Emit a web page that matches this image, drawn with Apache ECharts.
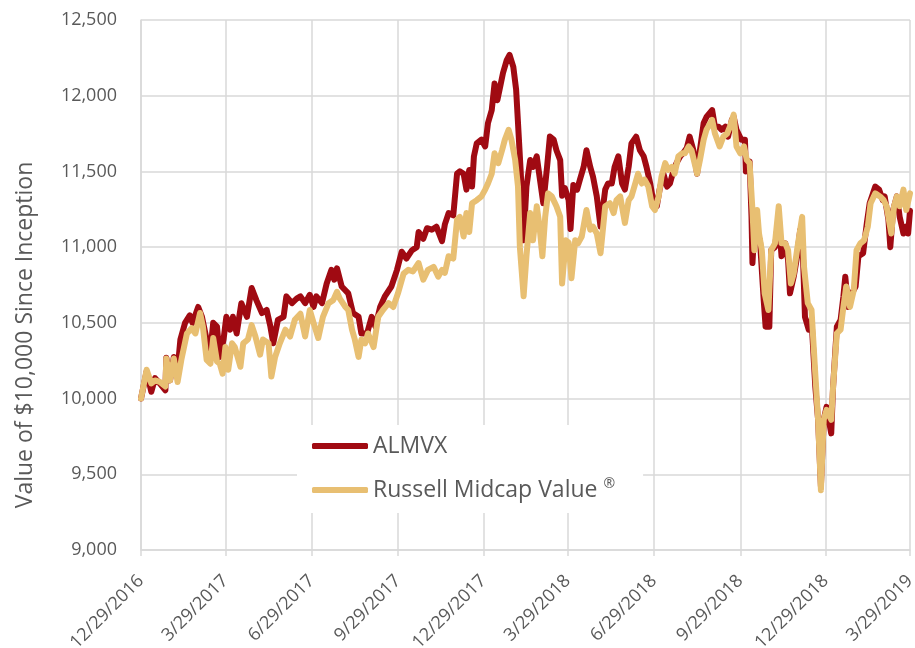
<!DOCTYPE html>
<html>
<head>
<meta charset="utf-8">
<title>ALMVX vs Russell Midcap Value</title>
<script src="https://cdn.jsdelivr.net/npm/echarts@6/dist/echarts.min.js"></script>
<style>
  html, body { margin: 0; padding: 0; background: #fff; }
  #chart { width: 915px; height: 648px; }
</style>
</head>
<body>
<div id="chart"></div>
<script>
'use strict';

/* Growth of $10,000, x = days since inception (12/29/2016) */
const almvxDays = [
  0, 6, 11, 15, 20, 26, 27, 31, 35, 39, 42, 47, 52, 55, 61, 65, 70, 74, 77, 81,
  84, 88, 91, 95, 98, 102, 107, 113, 118, 123, 129, 134, 138, 141, 146, 152, 155, 161, 166, 170,
  175, 180, 184, 187, 193, 198, 203, 206, 209, 214, 221, 226, 232, 235, 241, 246, 250, 255, 260, 267,
  273, 278, 283, 289, 294, 296, 301, 305, 310, 315, 321, 324, 328, 333, 337, 340, 344, 347, 350, 353,
  355, 358, 363, 367, 370, 374, 377, 380, 383, 386, 390, 393, 397, 400, 402, 405, 408, 411, 415, 418,
  422, 425, 429, 433, 436, 440, 443, 447, 449, 452, 456, 458, 461, 465, 468, 472, 475, 479, 482, 486,
  490, 495, 498, 502, 505, 509, 513, 516, 520, 523, 528, 532, 536, 539, 543, 546, 550, 553, 557, 561,
  564, 568, 571, 575, 578, 582, 585, 589, 593, 596, 600, 603, 609, 612, 616, 619, 623, 626, 630, 632,
  635, 640, 644, 645, 649, 651, 652, 655, 657, 660, 664, 666, 670, 672, 676, 680, 683, 687, 690, 692,
  696, 699, 703, 706, 708, 712, 715, 719, 722, 725, 728, 731, 736, 738, 742, 746, 749, 751, 754, 758,
  762, 765, 770, 774, 777, 783, 787, 791, 793, 797, 799, 802, 806, 809, 813, 816, 818, 820
];
const almvxValues = [
  10000, 10180, 10045, 10135, 10100, 10055, 10270, 10120, 10275, 10190, 10390, 10500, 10550, 10500, 10605, 10540, 10390, 10310, 10500, 10475,
  10275, 10390, 10540, 10455, 10540, 10430, 10630, 10540, 10730, 10650, 10565, 10585, 10475, 10365, 10520, 10540, 10675, 10630, 10660, 10675,
  10630, 10685, 10605, 10675, 10630, 10760, 10850, 10785, 10860, 10740, 10695, 10565, 10540, 10430, 10430, 10540, 10475, 10605, 10675, 10740,
  10850, 10970, 10925, 10980, 11000, 11100, 11055, 11125, 11115, 11135, 11040, 11150, 11225, 11210, 11485, 11500, 11485, 11380, 11510, 11400,
  11600, 11685, 11710, 11665, 11820, 11905, 12080, 11970, 12060, 12150, 12235, 12270, 12190, 12040, 11820, 11485, 11045, 11400, 11575, 11530,
  11600, 11465, 11290, 11530, 11730, 11710, 11640, 11575, 11340, 11390, 11310, 11120, 11410, 11380, 11445, 11530, 11640, 11530, 11465, 11335,
  11135, 11380, 11420, 11420, 11530, 11600, 11420, 11380, 11530, 11685, 11730, 11640, 11600, 11530, 11420, 11310, 11270, 11380, 11485, 11400,
  11420, 11510, 11555, 11600, 11620, 11655, 11730, 11640, 11485, 11640, 11820, 11860, 11905, 11795, 11795, 11775, 11795, 11730, 11840, 11860,
  11775, 11710, 11710, 11500, 11565, 11200, 10895, 11225, 11090, 11045, 10650, 10475, 10475, 10980, 11000, 11200, 10940, 11025, 10915, 10695,
  10805, 10915, 11115, 10915, 10540, 10455, 10520, 10080, 9860, 9420, 9860, 9945, 9770, 10080, 10475, 10520, 10675, 10805, 10605, 10695,
  10740, 10940, 10960, 11160, 11290, 11400, 11380, 11310, 11335, 11180, 11000, 11245, 11335, 11200, 11090, 11135, 11090, 11240
];

const russellDays = [
  0, 6, 11, 15, 20, 26, 27, 31, 35, 39, 43, 49, 54, 58, 63, 66, 70, 74, 77, 81,
  84, 87, 90, 93, 97, 100, 106, 109, 114, 118, 122, 127, 130, 136, 139, 143, 148, 154, 159, 164,
  170, 175, 180, 184, 189, 194, 200, 205, 209, 212, 218, 221, 225, 228, 232, 235, 239, 242, 248, 253,
  258, 264, 269, 274, 280, 285, 290, 296, 301, 306, 312, 317, 321, 324, 328, 333, 337, 340, 344, 347,
  350, 353, 358, 363, 367, 370, 374, 377, 381, 385, 388, 392, 395, 399, 402, 404, 408, 411, 415, 418,
  422, 425, 428, 431, 434, 438, 443, 447, 449, 453, 456, 459, 463, 466, 470, 475, 479, 482, 486, 490,
  495, 500, 504, 507, 511, 516, 520, 523, 527, 530, 534, 537, 541, 545, 548, 552, 555, 559, 562, 566,
  569, 573, 577, 580, 584, 587, 593, 596, 600, 603, 609, 612, 617, 621, 625, 628, 632, 635, 639, 643,
  646, 649, 652, 654, 657, 659, 662, 665, 669, 672, 676, 680, 683, 687, 690, 693, 696, 700, 705, 707,
  711, 715, 719, 722, 725, 728, 731, 736, 738, 742, 746, 749, 752, 756, 760, 763, 767, 771, 775, 778,
  783, 788, 792, 795, 800, 803, 806, 809, 813, 816, 818, 820
];
const russellValues = [
  10000, 10190, 10100, 10120, 10110, 10080, 10265, 10120, 10265, 10110, 10255, 10430, 10465, 10430, 10565, 10475, 10255, 10230, 10400, 10245,
  10230, 10165, 10340, 10190, 10365, 10340, 10210, 10365, 10390, 10485, 10410, 10290, 10390, 10365, 10145, 10275, 10365, 10455, 10410, 10520,
  10560, 10410, 10585, 10500, 10400, 10540, 10630, 10650, 10705, 10660, 10605, 10585, 10455, 10390, 10275, 10390, 10365, 10430, 10340, 10540,
  10585, 10630, 10605, 10695, 10825, 10850, 10840, 10895, 10785, 10850, 10870, 10805, 10850, 10830, 10940, 10925, 11180, 11200, 11070, 11225,
  11100, 11290, 11310, 11335, 11380, 11420, 11485, 11620, 11555, 11640, 11710, 11775, 11710, 11575, 11400, 11000, 10675, 10940, 11225, 11045,
  11270, 11135, 10940, 11200, 11355, 11335, 11270, 11200, 10760, 11045, 11030, 10795, 11045, 11025, 11070, 11245, 11115, 11135, 11090, 10960,
  11270, 11290, 11225, 11310, 11335, 11160, 11310, 11335, 11420, 11485, 11420, 11445, 11400, 11270, 11245, 11335, 11465, 11555, 11510, 11530,
  11485, 11600, 11620, 11620, 11665, 11640, 11485, 11575, 11710, 11775, 11840, 11750, 11665, 11730, 11750, 11795, 11875, 11665, 11620, 11665,
  11575, 11555, 11245, 10980, 11245, 11090, 10980, 10695, 10585, 10980, 11025, 11270, 11025, 11025, 10980, 10760, 10825, 11000, 11200, 10870,
  10630, 10585, 10165, 9860, 9395, 9860, 9925, 9860, 10080, 10430, 10455, 10605, 10740, 10605, 10715, 10980, 11025, 11045, 11135, 11290,
  11355, 11335, 11310, 11270, 11090, 11270, 11335, 11270, 11380, 11245, 11245, 11355
];

const tickDays = [0, 90, 182, 274, 365, 455, 547, 639, 730, 820];
const tickLabels = [
  '12/29/2016', '3/29/2017', '6/29/2017', '9/29/2017', '12/29/2017',
  '3/29/2018', '6/29/2018', '9/29/2018', '12/29/2018', '3/29/2019'
];

const pairs = (xs, ys) => xs.map((x, i) => [x, ys[i]]);

const FONT = '"Open Sans", "Noto Sans", sans-serif';
const TEXT = '#595959';
const GRID = '#D9D9D9';
const RUSSELL = 'Russell Midcap Value ®';

const chart = echarts.init(document.getElementById('chart'));
chart.setOption({
  animation: false,
  // fixed plot box; the rotated date labels may run off the bottom edge
  grid: { left: 141, right: 5, top: 20, bottom: 98, outerBoundsMode: 'none' },
  legend: {
    orient: 'vertical',
    left: 297,
    top: 425,
    backgroundColor: '#fff',
    padding: [8, 28, 10, 15],
    itemWidth: 56,
    itemHeight: 6,
    itemGap: 18,
    icon: 'roundRect',
    // registered mark drawn small and raised, as in the source
    formatter: (name) => (name === RUSSELL ? 'Russell Midcap Value {sup|®}' : name),
    textStyle: {
      fontFamily: FONT,
      fontSize: 23,
      color: TEXT,
      lineHeight: 26,
      rich: {
        sup: { fontFamily: FONT, fontSize: 14, color: TEXT, verticalAlign: 'top', lineHeight: 26, padding: [0, 0, 6, 0] },
      },
    },
    data: ['ALMVX', RUSSELL],
  },
  xAxis: {
    type: 'value',
    min: 0,
    max: 820,
    axisLine: { show: true, lineStyle: { color: GRID, width: 1.5 } },
    axisTick: { show: true, length: 6, customValues: tickDays, lineStyle: { color: GRID, width: 1.5 } },
    splitLine: { show: true, lineStyle: { color: GRID, width: 1.5 } },
    axisLabel: {
      customValues: tickDays,
      rotate: 45,
      margin: 28,
      fontFamily: FONT,
      fontSize: 18,
      color: TEXT,
      formatter: (v) => tickLabels[tickDays.indexOf(v)] || '',
    },
  },
  yAxis: {
    type: 'value',
    min: 9000,
    max: 12500,
    interval: 500,
    name: 'Value of $10,000 Since Inception',
    nameLocation: 'middle',
    nameGap: 104,
    nameTextStyle: { fontFamily: FONT, fontSize: 23, color: TEXT, padding: [0, 100, 0, 0] },
    axisLine: { show: true, lineStyle: { color: GRID, width: 1.5 } },
    axisTick: { show: false },
    splitLine: { show: true, lineStyle: { color: GRID, width: 1.5 } },
    axisLabel: {
      margin: 24,
      fontFamily: FONT,
      fontSize: 18,
      color: TEXT,
      formatter: (v) => v.toLocaleString('en-US'),
    },
  },
  series: [
    {
      name: 'ALMVX',
      type: 'line',
      data: pairs(almvxDays, almvxValues),
      showSymbol: false,
      color: '#A00A12',
      lineStyle: { width: 6, color: '#A00A12', cap: 'round', join: 'round' },
    },
    {
      name: RUSSELL,
      type: 'line',
      data: pairs(russellDays, russellValues),
      showSymbol: false,
      color: '#E8BF72',
      lineStyle: { width: 6, color: '#E8BF72', cap: 'round', join: 'round' },
    },
  ],
});
window.addEventListener('resize', () => chart.resize());
</script>
</body>
</html>
